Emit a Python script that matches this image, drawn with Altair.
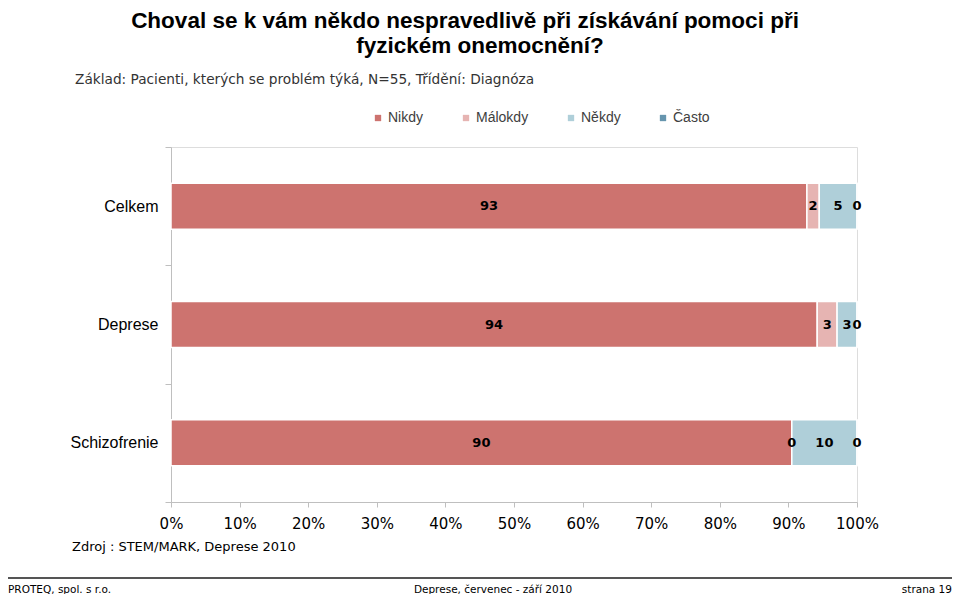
import altair as alt
import pandas as pd

categories = ["Celkem", "Deprese", "Schizofrenie"]
series = ["Nikdy", "Málokdy", "Někdy", "Často"]
colors = ["#CD736F", "#E6B4B2", "#AFCFD9", "#6695AE"]

nikdy = [92.7, 94.2, 90.5]
malokdy = [1.8, 2.9, 0.0]
nekdy = [5.5, 2.9, 9.5]
casto = [0.0, 0.0, 0.0]

nikdy_lbl = ["93", "94", "90"]
malokdy_lbl = ["2", "3", "0"]
nekdy_lbl = ["5", "3", "10"]
casto_lbl = ["0", "0", "0"]

ticks = [0, 10, 20, 30, 40, 50, 60, 70, 80, 90, 100]

title_lines = ["Choval se k vám někdo nespravedlivě při  získávání pomoci při", "fyzickém onemocnění?"]
subtitle = "Základ: Pacienti, kterých se problém týká, N=55, Třídění: Diagnóza"
source = "Zdroj : STEM/MARK, Deprese 2010"
footer_left = "PROTEQ, spol. s r.o."
footer_mid = "Deprese, červenec - září 2010"
footer_right = "strana 19"

rows = []
for s_i, (s, vals, lbls) in enumerate(zip(series, [nikdy, malokdy, nekdy, casto],
                                          [nikdy_lbl, malokdy_lbl, nekdy_lbl, casto_lbl])):
    for c, v, l in zip(categories, vals, lbls):
        rows.append({"cat": c, "series": s, "idx": s_i, "value": v, "label": l})
df = pd.DataFrame(rows)

W, H = 686, 355
PX, PY = 171, 147  # page position of plot origin

base = alt.Chart(df).transform_stack(
    stack="value", as_=["x0", "x1"], groupby=["cat"], sort=[alt.SortField("idx")]
).transform_calculate(mid="(datum.x0 + datum.x1) / 2")

yenc = alt.Y("cat:N", sort=categories, title=None,
             scale=alt.Scale(paddingInner=0, paddingOuter=0),
             axis=alt.Axis(tickBand="extent", labelFont="Liberation Sans", labelFontSize=16,
                           labelColor="#000000", domainColor="#BFBFBF", tickColor="#BFBFBF",
                           tickSize=6, labelPadding=7, domainWidth=1))

bars = base.mark_bar(size=46, stroke="white", strokeWidth=1.5).encode(
    x=alt.X("x0:Q", scale=alt.Scale(domain=[0, 100], nice=False), title=None,
            axis=alt.Axis(values=ticks, labelExpr="datum.value + '%'", grid=False,
                          labelFlush=False,
                          labelFont="DejaVu Sans", labelFontSize=15, labelColor="#000000",
                          domainColor="#BFBFBF", tickColor="#BFBFBF", tickSize=5,
                          labelPadding=9)),
    x2="x1:Q",
    y=yenc,
    color=alt.Color("series:N", sort=series,
                    scale=alt.Scale(domain=series, range=colors),
                    legend=alt.Legend(title=None, orient="none", direction="horizontal",
                                      legendX=200, legendY=-36, symbolType="square",
                                      symbolSize=40, symbolStrokeWidth=0,
                                      labelFont="Liberation Sans", labelFontSize=14,
                                      labelColor="#404040", columnPadding=35, labelOffset=3)),
)

texts = base.mark_text(font="DejaVu Sans", fontSize=13, fontWeight="bold", color="#000000").encode(
    x="mid:Q",
    y=alt.Y("cat:N", sort=categories),
    text="label:N",
)

ann_df = pd.DataFrame({
    "t": [title_lines[0], title_lines[1], subtitle, source, footer_left, footer_mid, footer_right],
    "k": ["t1", "t2", "sub", "src", "fl", "fm", "fr"],
})


def ann(k, x, y, **kw):
    return alt.Chart(ann_df).transform_filter(alt.datum.k == k).mark_text(**kw).encode(
        x=alt.value(x - PX), y=alt.value(y - PY), text="t:N")


t1 = ann("t1", 465, 21, font="Liberation Sans", fontSize=22.5, fontWeight="bold", align="center", color="#000000")
t2 = ann("t2", 480, 46, font="Liberation Sans", fontSize=22.5, fontWeight="bold", align="center", color="#000000")
sub = ann("sub", 75, 80, font="DejaVu Sans", fontSize=13.7, align="left", color="#333333")
src = ann("src", 72, 547, font="DejaVu Sans", fontSize=13, align="left", color="#000000")
fl = ann("fl", 8, 590, font="DejaVu Sans", fontSize=10.5, align="left", color="#000000")
fm = ann("fm", 493, 590, font="DejaVu Sans", fontSize=10.5, align="center", color="#000000")
fr = ann("fr", 952, 590, font="DejaVu Sans", fontSize=10.5, align="right", color="#000000")

line = alt.Chart(ann_df).transform_filter(alt.datum.k == "t1").mark_rule(color="#555555", strokeWidth=2).encode(
    x=alt.value(8 - PX), x2=alt.value(952 - PX), y=alt.value(578 - PY))

chart = alt.layer(bars, texts, t1, t2, sub, src, fl, fm, fr, line).properties(
    width=W, height=H,
    padding={"left": PX - 8, "top": PY - 8, "right": 944 - (PX - 8) - W, "bottom": 586 - (PY - 8) - H},
    autosize=alt.AutoSizeParams(type="none"),
).configure_view(stroke=None).configure(background="white")

chart.save("out.html", embed_options={"renderer": "svg", "actions": False})
